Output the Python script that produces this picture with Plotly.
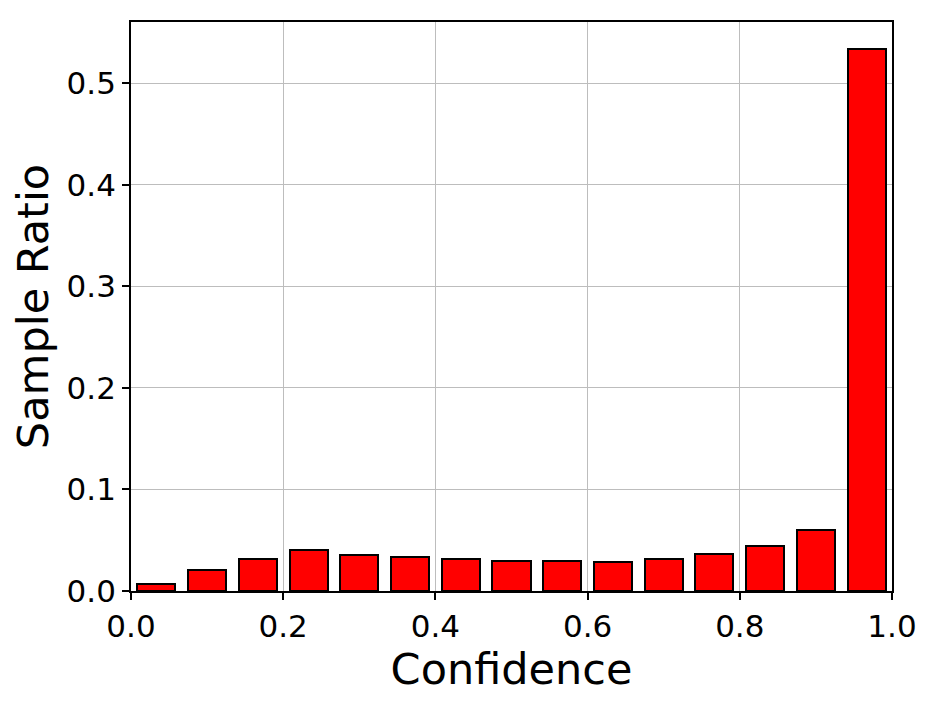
import numpy as np
import plotly.graph_objects as go

# 15 confidence bins on [0, 1]
bin_edges = np.linspace(0, 1, 16)
bin_centers = (bin_edges[:-1] + bin_edges[1:]) / 2
sample_ratio = [0.0069, 0.0210, 0.0320, 0.0404, 0.0351, 0.0338, 0.0312, 0.0298,
                0.0293, 0.0286, 0.0316, 0.0362, 0.0448, 0.0602, 0.5335]
x_ticks = [0.0, 0.2, 0.4, 0.6, 0.8, 1.0]
y_ticks = [0.0, 0.1, 0.2, 0.3, 0.4, 0.5]

font = 'DejaVu Sans'

fig = go.Figure(go.Bar(
    x=bin_centers, y=sample_ratio, width=0.05,
    marker=dict(color='red', line=dict(color='black', width=2)),
))

axis_common = dict(
    showline=True, linecolor='black', linewidth=1.8, mirror=True,
    ticks='outside', ticklen=7, tickwidth=1.5, tickcolor='black',
    showgrid=True, gridcolor='#bdbdbd', gridwidth=1.4,
    zeroline=False, tickformat='.1f',
    tickfont=dict(family=font, size=31, color='black'),
)

fig.update_xaxes(range=[0, 1], tickvals=x_ticks,
                 title=dict(text='Confidence', font=dict(family=font, size=43, color='black'), standoff=8),
                 **axis_common)
fig.update_yaxes(range=[0, 0.5603], tickvals=y_ticks,
                 title=dict(text='Sample Ratio', font=dict(family=font, size=43, color='black'), standoff=12),
                 **axis_common)

# page has an 8px body margin, so margins are shifted to keep the plot box in place
fig.update_layout(
    width=934, height=702,
    margin=dict(l=123, r=50, t=14, b=119),
    plot_bgcolor='white', paper_bgcolor='white',
    showlegend=False, bargap=0,
)

fig.write_html("out.html")
